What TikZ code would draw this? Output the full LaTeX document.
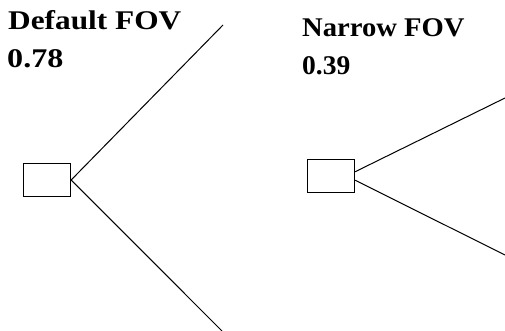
\documentclass[tikz,border=0pt]{standalone}
\usepackage{fontspec}
\setmainfont{Liberation Serif}
\begin{document}
\begin{tikzpicture}[x=1pt,y=1pt,
  camera/.style={draw=black,line width=1.3pt,rectangle,minimum width=47pt,minimum height=33pt,inner sep=0pt},
  ray/.style={draw=black,line width=1pt},
  label/.style={anchor=base west,inner sep=0pt,font=\fontsize{27}{27}\selectfont\bfseries}]
\useasboundingbox (0,0) rectangle (505,331);

% default field of view
\node[camera] (cam1) at (47,151) {};
\coordinate (d1top) at (223,306);
\coordinate (d1bot) at (222,0);
\draw[ray] (cam1.east) -- (d1top);
\draw[ray] (cam1.east) -- (d1bot);
\node[label] (t1) at (8,301) {\scalebox{1.16}[1]{Default FOV}};
\node[label] (v1) at (7,263) {\scalebox{1.19}[1]{0.78}};

% narrow field of view
\node[camera] (cam2) at (331,155) {};
\coordinate (d2top) at (505,233);
\coordinate (d2bot) at (505,76);
\draw[ray] (cam2.10) -- (d2top);
\draw[ray] (cam2.-10) -- (d2bot);
\node[label] (t2) at (302,294) {\scalebox{1.06}[1]{Narrow FOV}};
\node[label] (v2) at (302,256) {\scalebox{1.02}[1]{0.39}};
\end{tikzpicture}
\end{document}
